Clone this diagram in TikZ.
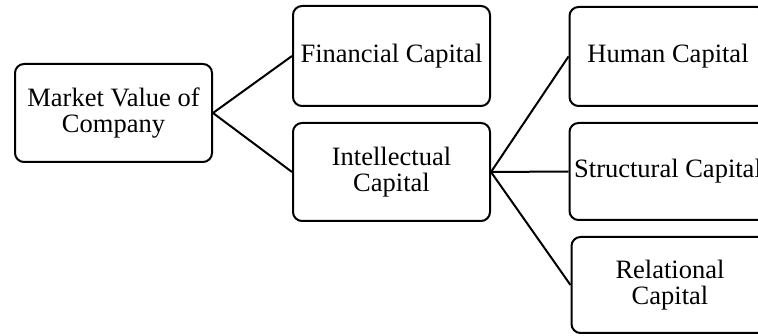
\documentclass[tikz,border=0pt]{standalone}
\usepackage{fontspec}
\setmainfont{Liberation Serif}
\begin{document}
\begin{tikzpicture}[x=1pt,y=-1pt,
  box/.style={draw, line width=2pt, rounded corners=9pt, align=center,
    font=\fontsize{26.5}{26}\selectfont, inner sep=0pt,
    minimum width=197pt},
  conn/.style={line width=2pt}]
\useasboundingbox (0,0) rectangle (758,336);
\node[box, minimum height=98pt] (mv) at (113.5,113) {Market Value of\\Company};
\node[box, minimum height=100pt] (fc) at (391.5,56) {Financial Capital};
\node[box, minimum height=98pt] (ic) at (391.5,172) {Intellectual\\Capital};
\node[box, minimum height=99pt] (hc) at (668,56.5) {Human Capital};
\node[box, minimum height=97pt] (sc) at (668,171.5) {Structural Capital};
\node[box, minimum height=96pt] (rc) at (670,285) {Relational\\Capital};
\draw[conn] (mv.east) -- (fc.west);
\draw[conn] (mv.east) -- (ic.west);
\draw[conn] (ic.east) -- (hc.west);
\draw[conn] (ic.east) -- (sc.west);
\draw[conn] (ic.east) -- (rc.west);
\end{tikzpicture}
\end{document}
